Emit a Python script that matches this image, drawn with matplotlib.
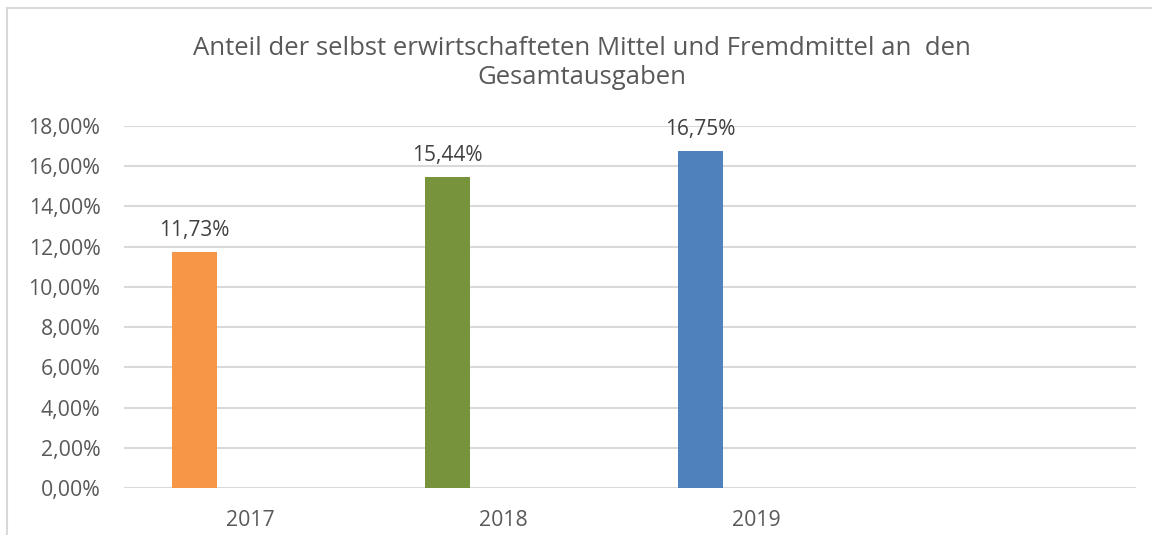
import matplotlib
matplotlib.use("Agg")
import matplotlib.pyplot as plt
from matplotlib.lines import Line2D
from matplotlib.ticker import FuncFormatter, MultipleLocator

categories = ["2017", "2018", "2019", ""]
values = [11.73, 15.44, 16.75]
bar_colors = ["#F79646", "#77933C", "#4F81BD"]
title = "Anteil der selbst erwirtschafteten Mittel und Fremdmittel an  den\nGesamtausgaben"

TXT = "#595959"
GRID = "#D9D9D9"
FONT = ["Open Sans", "DejaVu Sans"]
plt.rcParams["font.family"] = FONT

fig = plt.figure(figsize=(11.52, 5.35), dpi=100)
ax = fig.add_axes([124/1152, 1-488/535, (1136-124)/1152, (488-126)/535])

offset = -0.221
width = 0.178
xs = [i + offset for i in range(len(values))]
ax.bar(xs, values, width=width, color=bar_colors, zorder=3)
for x, v in zip(xs, values):
    ax.text(x, v + 0.55, f"{v:.2f}%".replace(".", ","), ha="center", va="bottom",
            fontsize=15, color="#404040")

ax.set_xlim(-0.5, len(categories) - 0.5)
ax.set_ylim(0, 18)
ax.yaxis.set_major_locator(MultipleLocator(2))
ax.yaxis.set_major_formatter(FuncFormatter(lambda v, p: f"{v:.2f}%".replace(".", ",")))
ax.set_xticks(range(len(categories)))
ax.set_xticklabels(categories)
ax.tick_params(axis="both", length=0, labelsize=15.3, labelcolor=TXT)
ax.tick_params(axis="y", pad=17)
ax.tick_params(axis="x", pad=16)
ax.grid(axis="y", color=GRID, linewidth=1.5, zorder=0)
for s in ax.spines.values():
    s.set_visible(False)

fig.text(582/1152, 1-63/535, title, ha="center", va="center", fontsize=18.5,
         color=TXT, linespacing=1.25)

# chart frame (top and left edges visible)
fig.add_artist(Line2D([7/1152, 1], [1-8/535, 1-8/535], transform=fig.transFigure,
                      color=GRID, linewidth=1.5))
fig.add_artist(Line2D([7/1152, 7/1152], [0, 1-8/535], transform=fig.transFigure,
                      color=GRID, linewidth=1.5))

fig.savefig("out.png", dpi=100, facecolor="white")
